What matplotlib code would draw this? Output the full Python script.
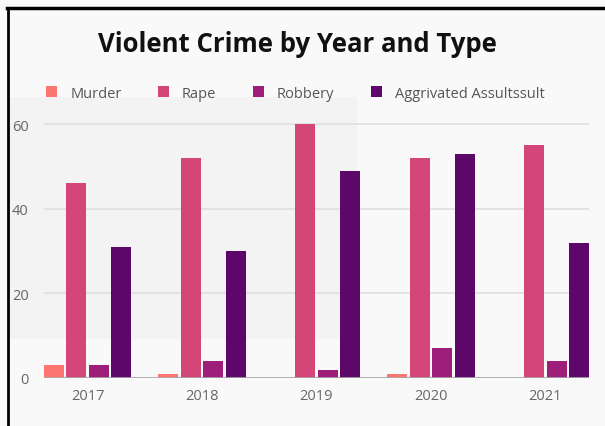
import numpy as np
import matplotlib
matplotlib.use("Agg")
import matplotlib.pyplot as plt
from matplotlib.patches import Rectangle
from matplotlib.lines import Line2D

years = ['2017', '2018', '2019', '2020', '2021']
murder = [3, 1, 0, 1, 0]
rape = [46, 52, 60, 52, 55]
robbery = [3, 4, 2, 7, 4]
assault = [31, 30, 49, 53, 32]

series_names = ['Murder', 'Rape', 'Robbery', 'Aggrivated Assultssult']
series_colors = ['#fe7672', '#d44677', '#9e1f79', '#5e076a']

plt.rcParams['font.family'] = ['Open Sans', 'DejaVu Sans']

fig = plt.figure(figsize=(6.05, 4.27), dpi=100)
fig.patch.set_facecolor('#f9f9f9')

# faint darker panel behind the left part (screenshot shading)
fig.add_artist(Rectangle((8 / 605, 1 - 340 / 427), (357 - 8) / 605, (340 - 98) / 427,
                         transform=fig.transFigure, facecolor='#f3f3f3',
                         edgecolor='none', zorder=-10))

# black frame on top and left
fig.add_artist(Line2D([7 / 605, 1], [1 - 9 / 427, 1 - 9 / 427], color='black',
                      lw=2.5, transform=fig.transFigure))
fig.add_artist(Line2D([8 / 605, 8 / 605], [0, 1 - 9 / 427], color='black',
                      lw=2, transform=fig.transFigure))

ax = fig.add_axes([44 / 605, 1 - 379 / 427, 545 / 605, (379 - 120.8) / 427])
ax.set_facecolor('none')

x = np.arange(len(years))
pitch = 0.196
width = 0.175
for i, (vals, name, col) in enumerate(zip([murder, rape, robbery, assault],
                                          series_names, series_colors)):
    ax.bar(x + (i - 1.5) * pitch, vals, width=width, color=col, label=name,
           zorder=3, edgecolor='none')

ax.set_xlim(-1.5 * pitch - width / 2, len(years) - 1 + 1.5 * pitch + width / 2)
ax.set_ylim(0, 61)
ax.set_yticks([0, 20, 40, 60])
ax.set_xticks(x)
ax.set_xticklabels(years)
ax.grid(axis='y', color='#e1e1e1', lw=1.3, zorder=0)
ax.axhline(0, color='#a8a8a8', lw=1.2, zorder=4)
for s in ax.spines.values():
    s.set_visible(False)
ax.tick_params(axis='both', length=0, labelsize=10.5, colors='#666666')
ax.tick_params(axis='y', pad=11)
ax.tick_params(axis='x', pad=7)

fig.text(297 / 605, 1 - 45 / 427, 'Violent Crime by Year and Type', ha='center',
         va='center', fontsize=18.5, fontweight='bold', color='#111111')

leg = fig.legend(loc='center left', bbox_to_anchor=(33 / 605, 1 - 94 / 427), ncol=4,
                 frameon=False, fontsize=10.5, handlelength=0.75, handleheight=0.75,
                 handletextpad=0.9, columnspacing=2.5, labelcolor='#555555')

fig.savefig('out.png', dpi=100, facecolor=fig.get_facecolor())
